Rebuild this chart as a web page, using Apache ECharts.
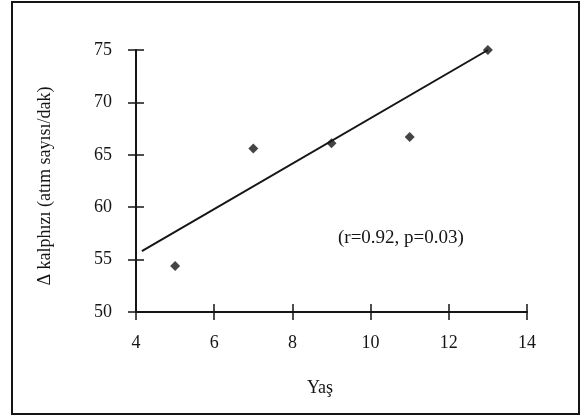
<!DOCTYPE html>
<html>
<head>
<meta charset="utf-8">
<script src="https://cdn.jsdelivr.net/npm/echarts@6/dist/echarts.min.js"></script>
<style>
html,body{margin:0;padding:0;background:#fff;}
#c{width:587px;height:420px;}
</style>
</head>
<body>
<div id="c"></div>
<script>
const ages = [5, 7, 9, 11, 13];
const heartRateDelta = [54.4, 65.6, 66.1, 66.7, 75];
const fitX = [4.15, 13];
const fitY = [55.8, 75];
const xTicks = [4, 6, 8, 10, 12, 14];
const yTicks = [50, 55, 60, 65, 70, 75];
const xTitle = 'Yaş';
const yTitle = 'Δ kalphızı (atım sayısı/dak)';
const statsText = '(r=0.92, p=0.03)';

const FONT = '"Liberation Serif", "DejaVu Serif", serif';
const INK = '#151515';

const chart = echarts.init(document.getElementById('c'));

function xAx(inside) {
  return {
    type: 'value', min: xTicks[0], max: xTicks[xTicks.length - 1], interval: 2,
    position: 'bottom',
    axisLine: { show: !inside, onZero: false, lineStyle: { color: INK, width: 2 } },
    axisTick: { show: true, inside: inside, length: 8, lineStyle: { color: INK, width: 1.5 } },
    axisLabel: { show: !inside, margin: 22, color: INK, fontFamily: FONT, fontSize: 18 },
    splitLine: { show: false }
  };
}
function yAx(inside) {
  return {
    type: 'value', min: yTicks[0], max: yTicks[yTicks.length - 1], interval: 5,
    position: 'left',
    axisLine: { show: !inside, onZero: false, lineStyle: { color: INK, width: 2 } },
    axisTick: { show: true, inside: inside, length: 8, lineStyle: { color: INK, width: 1.5 } },
    axisLabel: { show: !inside, margin: 24, color: INK, fontFamily: FONT, fontSize: 18 },
    splitLine: { show: false }
  };
}

chart.setOption({
  animation: false,
  backgroundColor: '#fff',
  grid: { left: 136, right: 60, top: 50, bottom: 108, containLabel: false },
  xAxis: [xAx(false), xAx(true)],
  yAxis: [yAx(false), yAx(true)],
  graphic: [
    { type: 'rect', shape: { x: 12, y: 2, width: 567, height: 412 },
      style: { fill: 'none', stroke: INK, lineWidth: 2 }, silent: true },
    { type: 'text', x: 320, y: 388,
      style: { text: xTitle, fontFamily: FONT, fontSize: 18, fill: INK, align: 'center', verticalAlign: 'middle' } },
    { type: 'text', x: 45, y: 186, rotation: Math.PI / 2,
      style: { text: yTitle, fontFamily: FONT, fontSize: 18, fill: INK, align: 'center', verticalAlign: 'middle' } },
    { type: 'text', x: 338, y: 238,
      style: { text: statsText, fontFamily: FONT, fontSize: 19, fill: INK, align: 'left', verticalAlign: 'middle' } }
  ],
  series: [
    {
      type: 'line', xAxisIndex: 0, yAxisIndex: 0,
      data: fitX.map((x, i) => [x, fitY[i]]),
      showSymbol: false, symbol: 'none',
      lineStyle: { color: INK, width: 2 }, z: 2
    },
    {
      type: 'scatter', xAxisIndex: 0, yAxisIndex: 0,
      data: ages.map((x, i) => [x, heartRateDelta[i]]),
      symbol: 'diamond', symbolSize: 10,
      itemStyle: { color: INK }, z: 3
    }
  ]
});
</script>
</body>
</html>
